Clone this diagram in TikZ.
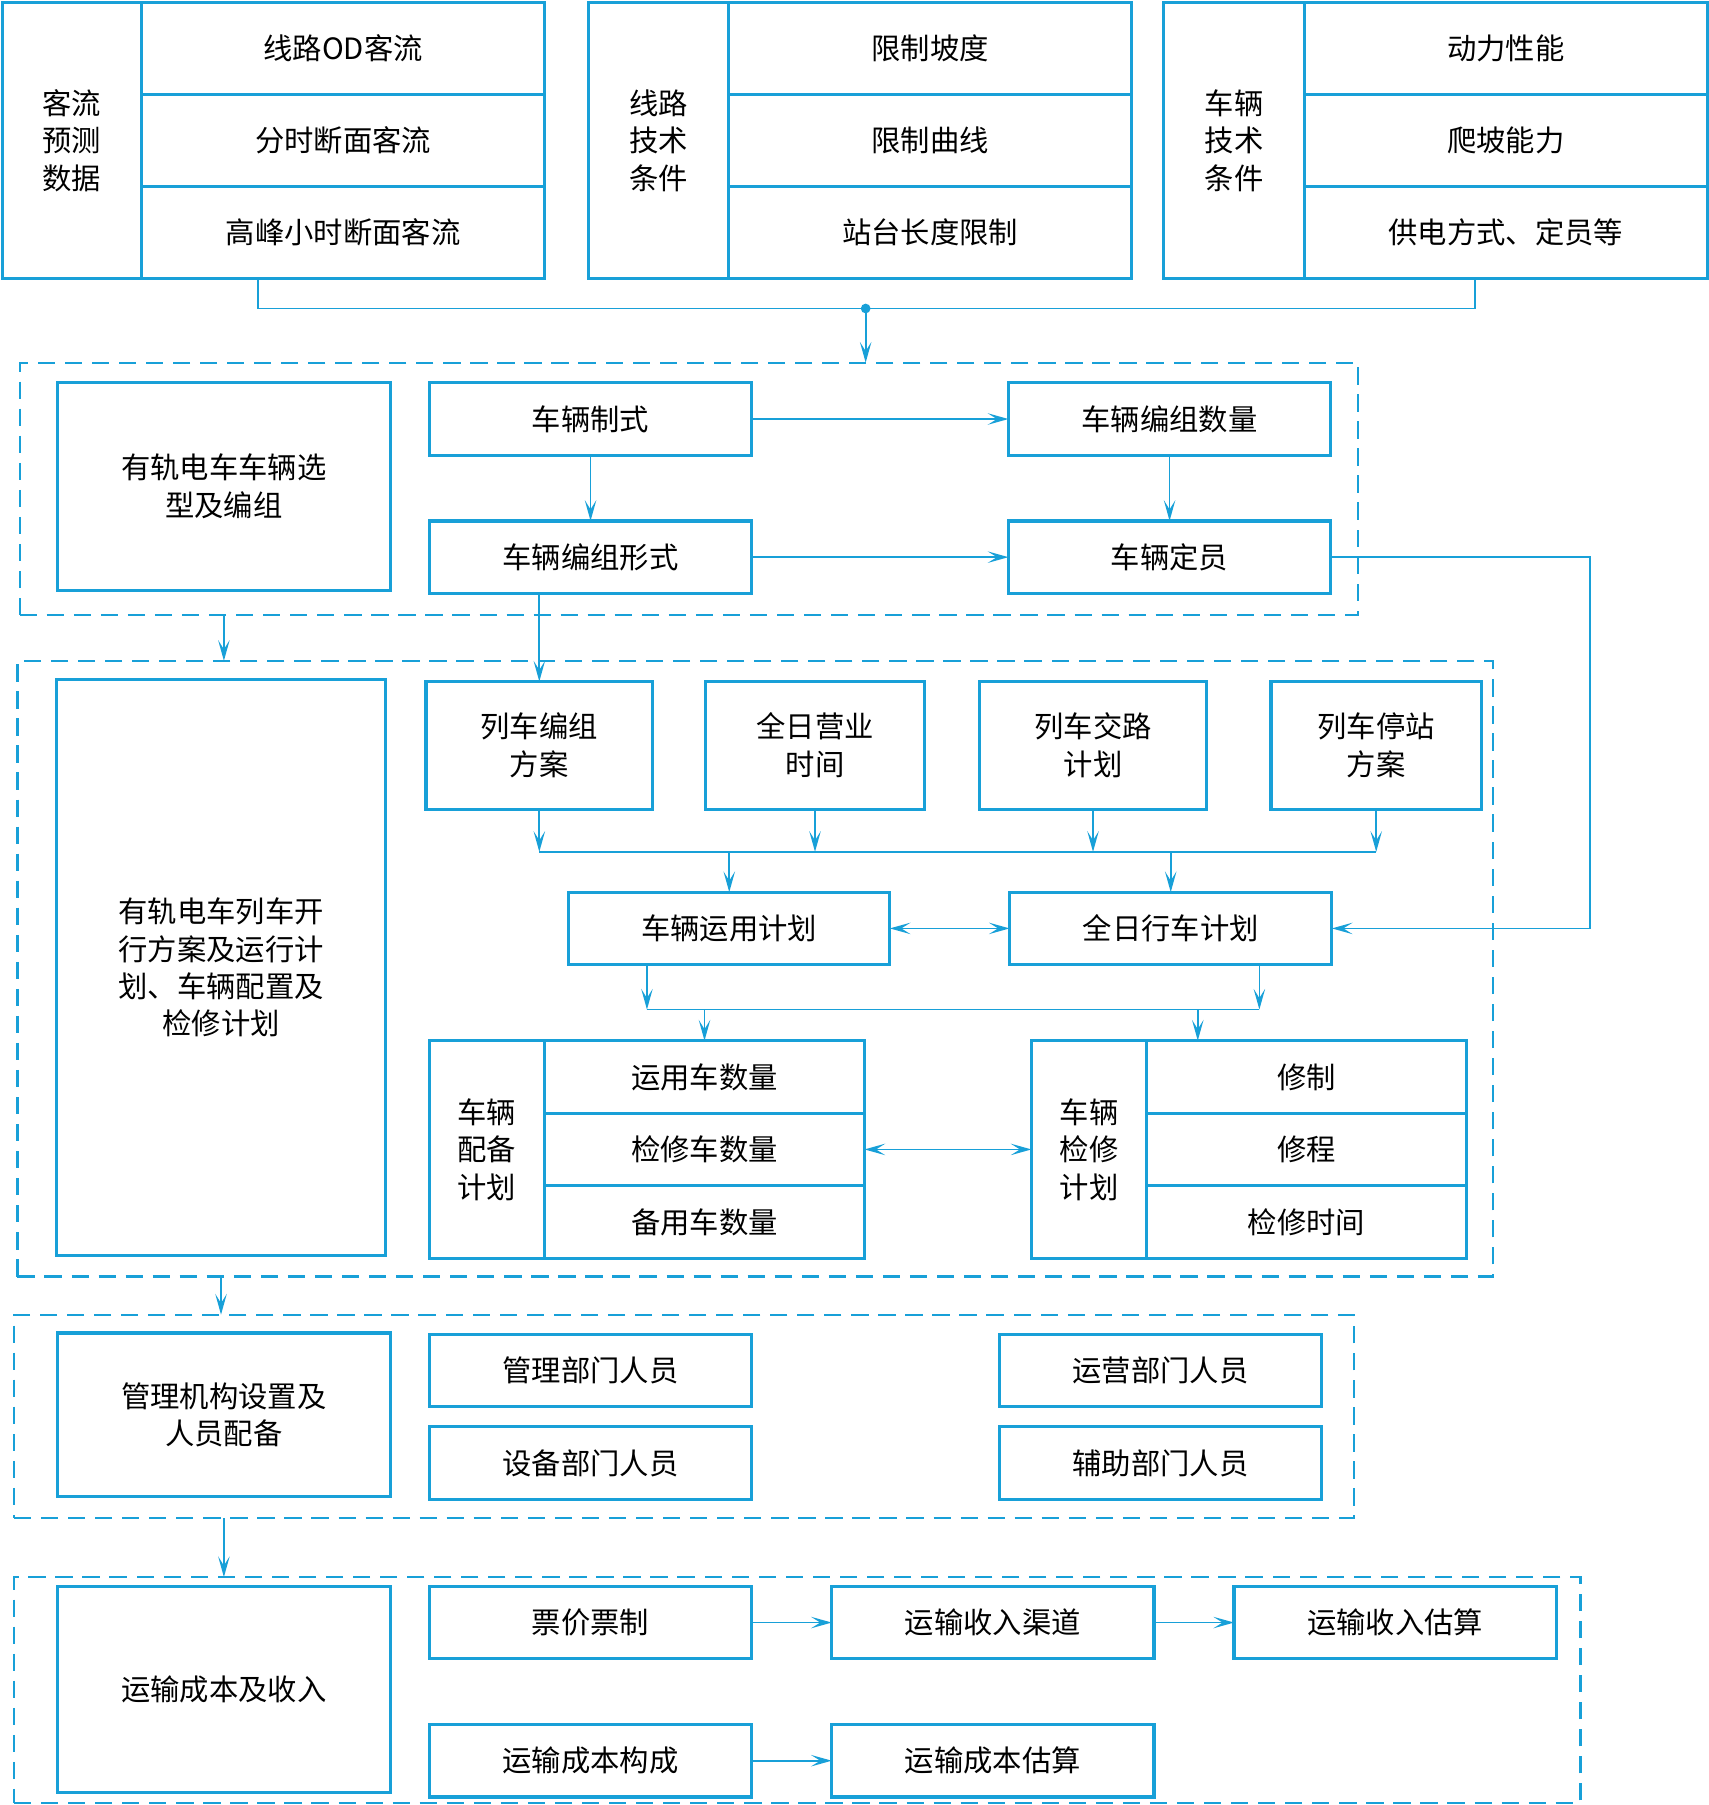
\documentclass[tikz,border=0pt]{standalone}
\usepackage{fontspec}
\setmainfont{Noto Sans CJK SC}
\usetikzlibrary{arrows.meta,calc,positioning}
\definecolor{lineblue}{RGB}{24,160,216}

\begin{document}
\begin{tikzpicture}[
  x=0.02cm, y=-0.02cm,
  font=\fontsize{14.5}{18.5}\selectfont,
  box/.style={draw=lineblue,line width=1.6pt,fill=white,inner sep=0pt,
              outer sep=0pt,align=center,minimum width=5.6cm,minimum height=1.26cm},
  sidecell/.style={box,minimum width=2.42cm,minimum height=4.8cm},
  rowcell/.style={box,minimum width=7cm,minimum height=1.6cm},
  tallbox/.style={box,minimum width=3.94cm,minimum height=2.22cm},
  cell/.style={box,minimum width=5.56cm,minimum height=1.26cm},
  stage/.style={draw=lineblue,line width=1.1pt,dash pattern=on 0.3cm off 0.17cm,
                inner sep=0pt,outer sep=0pt},
  link/.style={lineblue,line width=0.85pt},
  action/.style={link,-{Stealth[length=3.6mm,width=2mm,inset=1.6mm]}},
  twoway/.style={link,{Stealth[length=3.6mm,width=2mm,inset=1.6mm]}-{Stealth[length=3.6mm,width=2mm,inset=1.6mm]}}
]
\useasboundingbox (0,0) rectangle (1484,1568);

\node[sidecell] (aL) at (62.5,122) {客流\\预测\\数据};
\node[rowcell]  (a1) at (298,42)   {线路OD客流};
\node[rowcell]  (a2) at (298,122)  {分时断面客流};
\node[rowcell]  (a3) at (298,202)  {高峰小时断面客流};
\node[sidecell,minimum width=2.44cm] (bL) at (572,122) {线路\\技术\\条件};
\node[rowcell]  (b1) at (808,42)   {限制坡度};
\node[rowcell]  (b2) at (808,122)  {限制曲线};
\node[rowcell]  (b3) at (808,202)  {站台长度限制};
\node[sidecell,minimum width=2.44cm] (cL) at (1072,122) {车辆\\技术\\条件};
\node[rowcell]  (c1) at (1308,42)  {动力性能};
\node[rowcell]  (c2) at (1308,122) {爬坡能力};
\node[rowcell]  (c3) at (1308,202) {供电方式、定员等};

\coordinate (jn) at (752,268);
\draw[link] ([xshift=-1.48cm]a3.south) |- (jn) -| ([xshift=-0.54cm]c3.south);
\fill[lineblue] (jn) circle (2.4pt);

\node[stage,minimum width=23.26cm,minimum height=4.38cm] (g1) at (598.5,424.5) {};
\draw[action] (jn) -- (jn |- g1.north);

\node[box,minimum width=5.78cm,minimum height=3.62cm] (sel) at (194.5,422.5)
  {有轨电车车辆选\\型及编组};
\node[box] (zs)   at (513,364)  {车辆制式};
\node[box] (bzsl) at (1016,364) {车辆编组数量};
\node[box] (bzxs) at (513,484)  {车辆编组形式};
\node[box] (dy)   at (1016,484) {车辆定员};
\draw[action] (zs) -- (bzsl);
\draw[action] (zs) -- (bzxs);
\draw[action] (bzsl) -- (dy);
\draw[action] (bzxs) -- (dy);

\node[stage,minimum width=25.64cm,minimum height=10.7cm] (g2) at (656,841.5) {};
\draw[action] (sel.south |- g1.south) -- (sel.south |- g2.north);

\node[box,minimum width=5.72cm,minimum height=10.02cm] (plan) at (192,840.5)
  {有轨电车列车开\\行方案及运行计\\划、车辆配置及\\检修计划};
\node[tallbox] (lz) at (468.5,647.5) {列车编组\\方案};
\node[tallbox,minimum width=3.8cm] (yy) at (708,647.5) {全日营业\\时间};
\node[tallbox] (jl) at (949.5,647.5) {列车交路\\计划};
\node[tallbox,minimum width=3.66cm] (tz) at (1195.5,647.5) {列车停站\\方案};
\draw[action] (lz.north |- bzxs.south) -- (lz.north);

\coordinate (m1) at (468.5,740);
\coordinate (m2) at (1195.5,740);
\draw[link] (m1) -- (m2);
\foreach \n in {lz,yy,jl,tz}
  \draw[action] (\n.south) -- (\n.south |- m1);

\node[box,minimum width=5.58cm] (yj) at (633.5,806.5) {车辆运用计划};
\node[box] (qr) at (1017,806.5) {全日行车计划};
\draw[action] (m1 -| yj.north) -- (yj.north);
\draw[action] (m1 -| qr.north) -- (qr.north);
\draw[twoway] (yj) -- (qr);
\draw[action] (dy.east) -- ++(4.5cm,0) |- (qr.east);

\coordinate (n1) at (562,877);
\coordinate (n2) at (1094,877);
\draw[link] (n1) -- (n2);
\draw[action] (yj.south -| n1) -- (n1);
\draw[action] (qr.south -| n2) -- (n2);

\node[sidecell,minimum width=2cm,minimum height=3.78cm] (pbL) at (423,998.5) {车辆\\配备\\计划};
\node[cell] (pb1) at (612,935.5)  {运用车数量};
\node[cell] (pb2) at (612,998.5)  {检修车数量};
\node[cell] (pb3) at (612,1061.5) {备用车数量};
\node[sidecell,minimum width=2cm,minimum height=3.78cm] (jxL) at (946,998.5) {车辆\\检修\\计划};
\node[cell] (jx1) at (1135,935.5)  {修制};
\node[cell] (jx2) at (1135,998.5)  {修程};
\node[cell] (jx3) at (1135,1061.5) {检修时间};
\coordinate (jxtop) at ($(jxL.north)!0.5!(jx1.north)$);
\draw[action] (n1 -| pb1.north) -- (pb1.north);
\draw[action] (n1 -| jxtop) -- (jxtop);
\draw[twoway] (pb2) -- (jxL);

\node[stage,minimum width=23.28cm,minimum height=3.54cm] (g3) at (594,1230.5) {};
\draw[action] (plan.south |- g2.south) -- (plan.south |- g3.north);

\node[box,minimum width=5.78cm,minimum height=2.84cm] (org) at (194.5,1229)
  {管理机构设置及\\人员配备};
\node[box] (p1) at (513,1190.5) {管理部门人员};
\node[box] (p2) at (513,1271)   {设备部门人员};
\node[box] (p3) at (1008,1190.5) {运营部门人员};
\node[box] (p4) at (1008,1271)   {辅助部门人员};

\node[stage,minimum width=27.22cm,minimum height=3.92cm] (g4) at (692.5,1468) {};
\draw[action] (org.south |- g3.south) -- (org.south |- g4.north);

\node[box,minimum width=5.78cm,minimum height=3.58cm] (cost) at (194.5,1467.5) {运输成本及收入};
\node[box] (pj) at (513,1409.5)   {票价票制};
\node[box] (qd) at (862.5,1409.5) {运输收入渠道};
\node[box] (gs) at (1212,1409.5)  {运输收入估算};
\node[box] (gc) at (513,1529.5)   {运输成本构成};
\node[box] (cg) at (862.5,1529.5) {运输成本估算};
\draw[action] (pj) -- (qd);
\draw[action] (qd) -- (gs);
\draw[action] (gc) -- (cg);
\end{tikzpicture}
\end{document}
